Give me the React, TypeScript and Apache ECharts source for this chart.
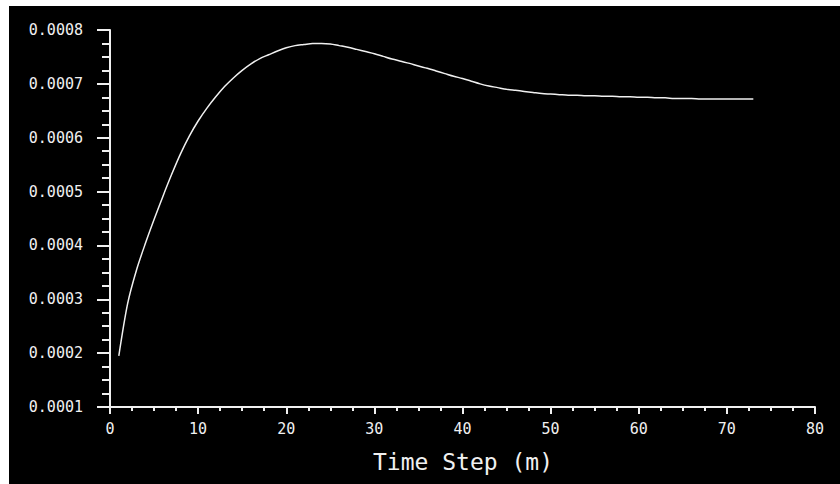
import React, { useEffect, useRef } from "react";
import * as echarts from "echarts";

const steps = [
  1, 2, 3, 4, 5, 6, 7, 8, 9, 10, 11, 12, 13, 14, 15, 16, 17, 18, 19, 20,
  21, 22, 23, 24, 25, 26, 27, 28, 29, 30, 31, 32, 33, 34, 35, 36, 37, 38, 39, 40,
  41, 42, 43, 44, 45, 46, 47, 48, 49, 50, 51, 52, 53, 54, 55, 56, 57, 58, 59, 60,
  61, 62, 63, 64, 65, 66, 67, 68, 69, 70, 71, 72, 73,
];

const values = [
  0.000195, 0.000292, 0.000354, 0.000403, 0.000448, 0.000491, 0.000532, 0.00057, 0.000603, 0.000631,
  0.000655, 0.000676, 0.000695, 0.000711, 0.000725, 0.000737, 0.000747, 0.000754, 0.000761, 0.000767,
  0.000771, 0.000773, 0.000775, 0.000775, 0.000774, 0.000771, 0.000768, 0.000764, 0.00076, 0.000756,
  0.000751, 0.000746, 0.000742, 0.000738, 0.000733, 0.000729, 0.000724, 0.000719, 0.000714, 0.00071,
  0.000705, 0.0007, 0.000696, 0.000693, 0.00069, 0.000688, 0.000686, 0.000684, 0.000682, 0.000681,
  0.00068, 0.000679, 0.000679, 0.000678, 0.000678, 0.000677, 0.000677, 0.000676, 0.000676, 0.000675,
  0.000675, 0.000674, 0.000674, 0.000673, 0.000673, 0.000673, 0.000672, 0.000672, 0.000672, 0.000672,
  0.000672, 0.000672, 0.000672,
];

const xTitle = "Time Step (m)";

const FG = "#f0f0f0";
const MONO = "'DejaVu Sans Mono', 'Liberation Mono', monospace";

export default function App() {
  const ref = useRef<HTMLDivElement>(null);

  useEffect(() => {
    if (!ref.current) return;
    const chart = echarts.init(ref.current, undefined, { renderer: "svg" });
    chart.setOption({
      animation: false,
      backgroundColor: "transparent",
      grid: { left: 110, right: 25, top: 30, bottom: 77 },
      xAxis: {
        type: "value",
        min: 0,
        max: 80,
        interval: 10,
        axisLine: { show: true, onZero: false, lineStyle: { color: FG, width: 2 } },
        axisTick: { show: true, length: 7, lineStyle: { color: FG, width: 2 } },
        minorTick: { show: true, splitNumber: 4, length: 4, lineStyle: { color: FG, width: 2 } },
        splitLine: { show: false },
        minorSplitLine: { show: false },
        axisLabel: { color: FG, fontFamily: MONO, fontSize: 15, margin: 14 },
      },
      yAxis: {
        type: "value",
        min: 0.0001,
        max: 0.0008,
        interval: 0.0001,
        axisLine: { show: true, onZero: false, lineStyle: { color: FG, width: 2 } },
        axisTick: { show: true, length: 13, lineStyle: { color: FG, width: 2 } },
        minorTick: { show: true, splitNumber: 4, length: 8, lineStyle: { color: FG, width: 2 } },
        splitLine: { show: false },
        minorSplitLine: { show: false },
        axisLabel: {
          color: FG,
          fontFamily: MONO,
          fontSize: 15,
          margin: 27,
          formatter: (v: number) => v.toFixed(4),
        },
      },
      graphic: [
        {
          type: "text",
          x: 463,
          y: 462,
          style: {
            text: xTitle,
            fill: FG,
            font: `23px ${MONO}`,
            textAlign: "center",
            textVerticalAlign: "middle",
          },
        },
      ],
      series: [
        {
          type: "line",
          data: steps.map((s, i) => [s, values[i]]),
          showSymbol: false,
          smooth: 0.3,
          lineStyle: { color: FG, width: 1.5 },
        },
      ],
    });
    return () => chart.dispose();
  }, []);

  return (
    <div
      style={{
        position: "fixed",
        left: 0,
        top: 0,
        width: 840,
        height: 484,
        background: "#ffffff",
        overflow: "hidden",
      }}
    >
      <div
        style={{
          position: "absolute",
          left: 9,
          top: 6,
          right: 0,
          bottom: 0,
          background: "#000000",
        }}
      />
      <div
        ref={ref}
        style={{ position: "absolute", left: 0, top: 0, width: 840, height: 484 }}
      />
    </div>
  );
}
